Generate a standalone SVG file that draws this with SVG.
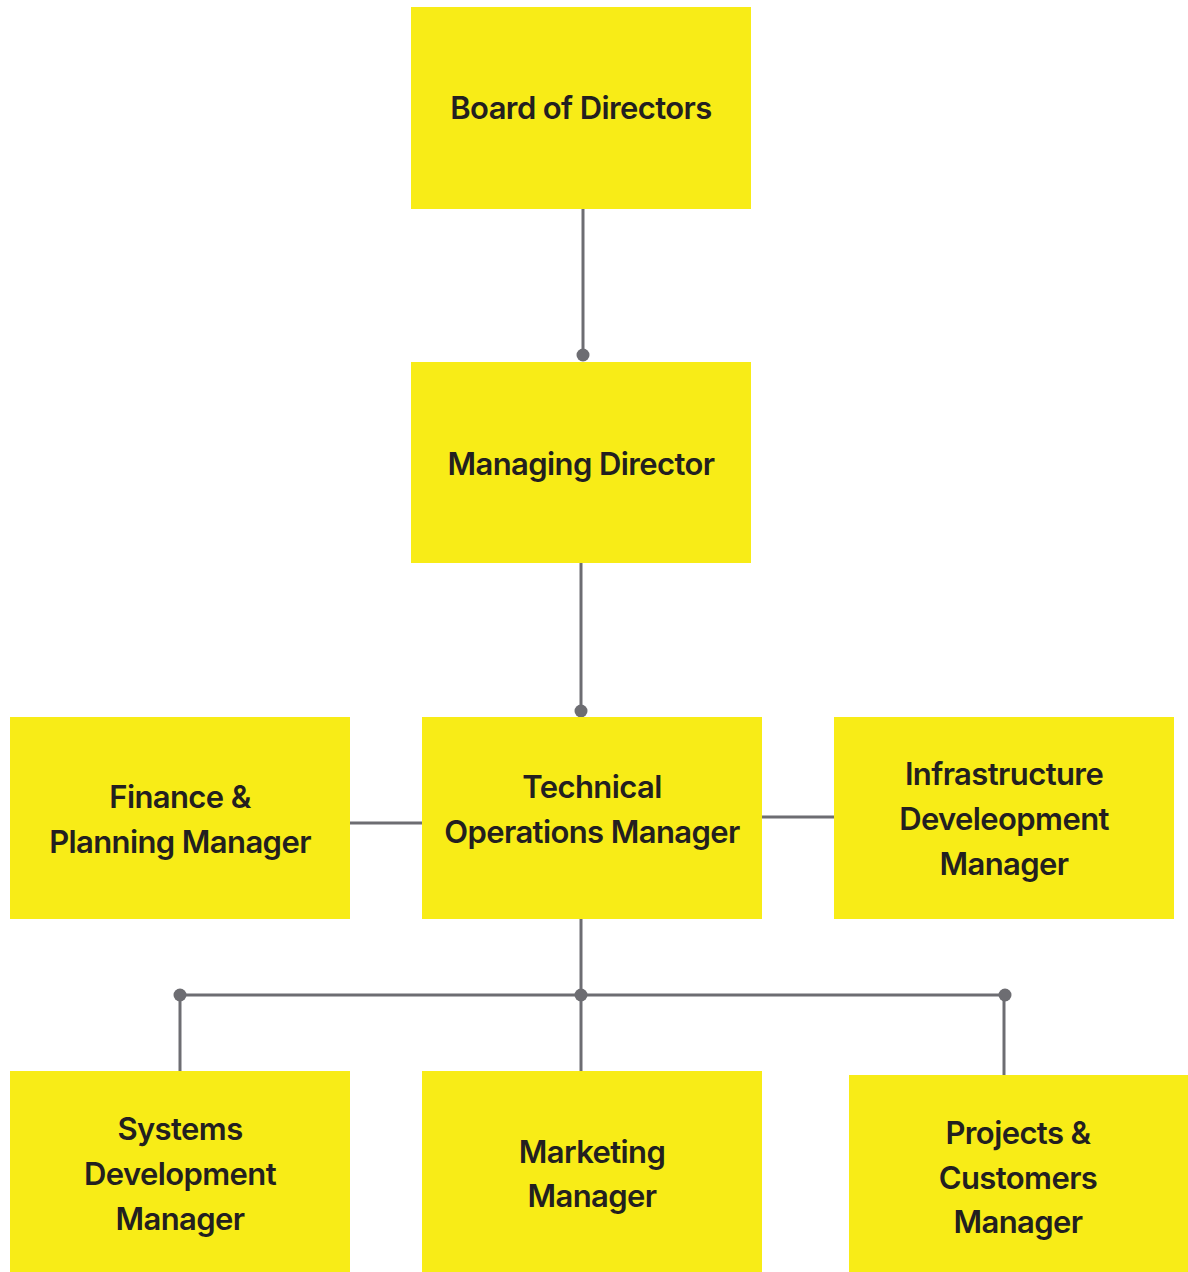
<svg xmlns="http://www.w3.org/2000/svg" width="1188" height="1272" viewBox="0 0 1188 1272">
<style>
.box{fill:#F8EC17}
.t{font-family:Inter,"Liberation Sans",sans-serif;font-weight:600;font-size:31px;fill:#231f20;text-anchor:middle;letter-spacing:-0.6px}
.c{stroke:#6d6d72;stroke-width:3;fill:none}
.d{fill:#6d6d72}
</style>
<rect width="1188" height="1272" fill="#fff"/>
<g id="connectors">
<path class="c" d="M583 209V355"/>
<circle class="d" cx="583" cy="355" r="6.5"/>
<path class="c" d="M581 563V711"/>
<circle class="d" cx="581" cy="711" r="6.5"/>
<path class="c" d="M350 823H422"/>
<path class="c" d="M762 817H834"/>
<path class="c" d="M581 919V1071"/>
<path class="c" d="M180 995H1005"/>
<path class="c" d="M180 995V1071"/>
<path class="c" d="M1004 995V1075"/>
<circle class="d" cx="180" cy="995" r="6.5"/>
<circle class="d" cx="581" cy="995" r="6.5"/>
<circle class="d" cx="1005" cy="995" r="6.5"/>
</g>
<g id="board"><rect class="box" x="411" y="7" width="340" height="202"/><text class="t" x="581" y="119">Board of Directors</text></g>
<g id="md"><rect class="box" x="411" y="362" width="340" height="201"/><text class="t" x="581" y="475">Managing Director</text></g>
<g id="tom"><rect class="box" x="422" y="717" width="340" height="202"/><text class="t" x="592" y="798">Technical</text><text class="t" x="592" y="843">Operations Manager</text></g>
<g id="finance"><rect class="box" x="10" y="717" width="340" height="202"/><text class="t" x="180" y="808">Finance &amp;</text><text class="t" x="180" y="853">Planning Manager</text></g>
<g id="infra"><rect class="box" x="834" y="717" width="340" height="202"/><text class="t" x="1004" y="785">Infrastructure</text><text class="t" x="1004" y="830">Develeopment</text><text class="t" x="1004" y="875">Manager</text></g>
<g id="systems"><rect class="box" x="10" y="1071" width="340" height="201"/><text class="t" x="180" y="1140">Systems</text><text class="t" x="180" y="1185">Development</text><text class="t" x="180" y="1230">Manager</text></g>
<g id="marketing"><rect class="box" x="422" y="1071" width="340" height="201"/><text class="t" x="592" y="1163">Marketing</text><text class="t" x="592" y="1207">Manager</text></g>
<g id="projects"><rect class="box" x="849" y="1075" width="339" height="197"/><text class="t" x="1018" y="1144">Projects &amp;</text><text class="t" x="1018" y="1189">Customers</text><text class="t" x="1018" y="1233">Manager</text></g>
</svg>
